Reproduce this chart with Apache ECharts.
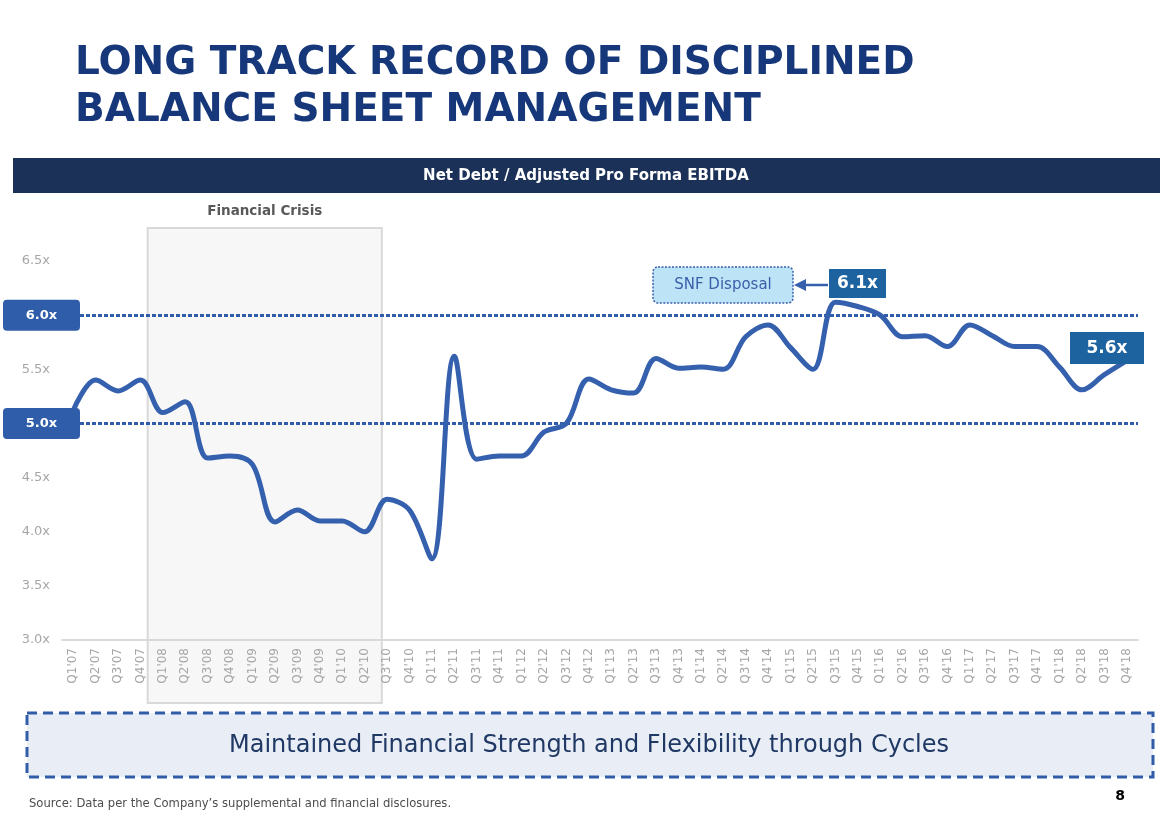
<!DOCTYPE html>
<html>
<head>
<meta charset="utf-8">
<script src="https://cdn.jsdelivr.net/npm/echarts@6/dist/echarts.min.js"></script>
<style>
  html, body { margin: 0; padding: 0; background: #fff; }
  #main { width: 1171px; height: 824px; }
</style>
</head>
<body>
<div id="main"></div>
<script>
// quarters on the x axis
var quarters = [
  "Q1'07", "Q2'07", "Q3'07", "Q4'07", "Q1'08", "Q2'08", "Q3'08", "Q4'08",
  "Q1'09", "Q2'09", "Q3'09", "Q4'09", "Q1'10", "Q2'10", "Q3'10", "Q4'10",
  "Q1'11", "Q2'11", "Q3'11", "Q4'11", "Q1'12", "Q2'12", "Q3'12", "Q4'12",
  "Q1'13", "Q2'13", "Q3'13", "Q4'13", "Q1'14", "Q2'14", "Q3'14", "Q4'14",
  "Q1'15", "Q2'15", "Q3'15", "Q4'15", "Q1'16", "Q2'16", "Q3'16", "Q4'16",
  "Q1'17", "Q2'17", "Q3'17", "Q4'17", "Q1'18", "Q2'18", "Q3'18", "Q4'18"
];
// net debt / adjusted pro forma EBITDA (x)
var leverage = [
  5.12, 5.40, 5.30, 5.40, 5.10, 5.20, 4.68, 4.70,
  4.62, 4.09, 4.20, 4.10, 4.10, 4.00, 4.30, 4.20,
  3.75, 5.62, 4.67, 4.70, 4.70, 4.92, 5.00, 5.41,
  5.31, 5.28, 5.60, 5.51, 5.52, 5.50, 5.80, 5.91,
  5.70, 5.50, 6.12, 6.08, 6.00, 5.80, 5.81, 5.71,
  5.91, 5.81, 5.71, 5.71, 5.52, 5.31, 5.45, 5.58
];
// reference levels drawn as dotted lines
var refLevels = [6.0, 5.0];
// financial crisis span
var crisisStart = "Q1'08";
var crisisEnd = "Q2'10";

var FONT = "'DejaVu Sans', Verdana, sans-serif";
var BLUE = '#2f5daa';
var LINE = '#3560ae';
var NAVY = '#16387b';

var myChart = echarts.init(document.getElementById('main'));

myChart.setOption({
  animation: false,
  backgroundColor: '#fff',
  textStyle: { fontFamily: FONT },
  grid: { left: 62, right: 33, top: 261, bottom: 184 },
  xAxis: {
    type: 'category',
    data: quarters,
    boundaryGap: true,
    axisLine: { lineStyle: { color: '#d9d9d9', width: 2 } },
    axisTick: { show: false },
    axisLabel: { interval: 0, rotate: 90, color: '#a6a6a6', fontSize: 12, margin: 8, fontFamily: FONT }
  },
  yAxis: {
    type: 'value',
    min: 3, max: 6.5, interval: 0.5,
    axisLine: { show: false },
    axisTick: { show: false },
    splitLine: { show: false },
    axisLabel: {
      color: '#a6a6a6', fontSize: 13, margin: 12, fontFamily: FONT,
      formatter: function (v) { return v.toFixed(1) + 'x'; }
    }
  },
  series: [{
    type: 'line',
    data: leverage,
    smooth: 0.35,
    symbol: 'none',
    z: 5,
    lineStyle: { color: LINE, width: 5 },
    markLine: {
      silent: true,
      symbol: 'none',
      label: { show: false },
      lineStyle: { color: BLUE, width: 3, type: [4, 2] },
      data: refLevels.map(function (v) { return { yAxis: v }; })
    }
  }]
});

// overlays positioned from the axes
var step = myChart.convertToPixel({ xAxisIndex: 0 }, quarters[1]) - myChart.convertToPixel({ xAxisIndex: 0 }, quarters[0]);
var cx0 = myChart.convertToPixel({ xAxisIndex: 0 }, crisisStart) - step / 2 - 4;
var cx1 = myChart.convertToPixel({ xAxisIndex: 0 }, crisisEnd) + step / 2 + 6;

var gfx = [
  // title
  { type: 'text', x: 75, y: 83, z: 100, style: { text: 'LONG TRACK RECORD OF DISCIPLINED', fill: NAVY, font: 'bold 39px ' + FONT, textVerticalAlign: 'bottom' } },
  { type: 'text', x: 75, y: 130, z: 100, style: { text: 'BALANCE SHEET MANAGEMENT', fill: NAVY, font: 'bold 39px ' + FONT, textVerticalAlign: 'bottom' } },
  // header bar
  { type: 'rect', z: 100, shape: { x: 13, y: 158, width: 1147, height: 35 }, style: { fill: '#1b3157' } },
  { type: 'text', x: 586, y: 176.5, z: 101, style: { text: 'Net Debt / Adjusted Pro Forma EBITDA', fill: '#fff', font: 'bold 15px ' + FONT, textAlign: 'center', textVerticalAlign: 'middle' } },
  // financial crisis shading
  { type: 'rect', z: -1, shape: { x: cx0, y: 228, width: cx1 - cx0, height: 475 }, style: { fill: '#f7f7f7', stroke: '#d9d9d9', lineWidth: 2 } },
  { type: 'text', x: (cx0 + cx1) / 2, y: 211, z: 100, style: { text: 'Financial Crisis', fill: '#595959', font: 'bold 13.5px ' + FONT, textAlign: 'center', textVerticalAlign: 'middle' } },
  // SNF disposal callout
  { type: 'rect', z: 100, shape: { x: 653, y: 267, width: 140, height: 36, r: 5 }, style: { fill: '#bde3f7', stroke: LINE, lineWidth: 1.5, lineDash: [2, 1.5] } },
  { type: 'text', x: 723, y: 285.5, z: 101, style: { text: 'SNF Disposal', fill: '#3a5fa9', font: '15px ' + FONT, textAlign: 'center', textVerticalAlign: 'middle' } },
  { type: 'line', z: 100, shape: { x1: 828, y1: 285, x2: 802, y2: 285 }, style: { stroke: LINE, lineWidth: 2.5 } },
  { type: 'polygon', z: 100, shape: { points: [[794, 285], [806, 279], [806, 291]] }, style: { fill: LINE } },
  { type: 'rect', z: 100, shape: { x: 829, y: 269, width: 57, height: 29 }, style: { fill: '#1c63a0' } },
  { type: 'text', x: 857.5, y: 284, z: 101, style: { text: '6.1x', fill: '#fff', font: 'bold 17px ' + FONT, textAlign: 'center', textVerticalAlign: 'middle' } },
  // latest value callout
  { type: 'rect', z: 100, shape: { x: 1070, y: 332, width: 74, height: 32 }, style: { fill: '#1c63a0' } },
  { type: 'text', x: 1107, y: 348.5, z: 101, style: { text: '5.6x', fill: '#fff', font: 'bold 17px ' + FONT, textAlign: 'center', textVerticalAlign: 'middle' } },
  // bottom message box
  { type: 'rect', z: 100, shape: { x: 27, y: 713, width: 1126, height: 64 }, style: { fill: '#e9eef6', stroke: BLUE, lineWidth: 3, lineDash: [10, 6] } },
  { type: 'text', x: 589, y: 746, z: 101, style: { text: 'Maintained Financial Strength and Flexibility through Cycles', fill: '#1f3864', font: '24px ' + FONT, textAlign: 'center', textVerticalAlign: 'middle' } },
  // footer
  { type: 'text', x: 29, y: 804, z: 100, style: { text: "Source: Data per the Company\u2019s supplemental and financial disclosures.", fill: '#4d4d4d', font: '11.6px ' + FONT, textVerticalAlign: 'middle' } },
  { type: 'text', x: 1120, y: 796, z: 100, style: { text: '8', fill: '#000', font: 'bold 14px ' + FONT, textAlign: 'center', textVerticalAlign: 'middle' } }
];

// labelled boxes for the reference levels
refLevels.forEach(function (v) {
  var y = myChart.convertToPixel({ yAxisIndex: 0 }, v);
  gfx.push({ type: 'rect', z: 100, shape: { x: 3, y: y - 15.5, width: 77, height: 31, r: 4 }, style: { fill: BLUE } });
  gfx.push({ type: 'text', x: 41.5, y: y, z: 101, style: { text: v.toFixed(1) + 'x', fill: '#fff', font: 'bold 13px ' + FONT, textAlign: 'center', textVerticalAlign: 'middle' } });
});

myChart.setOption({ graphic: gfx });
</script>
</body>
</html>
